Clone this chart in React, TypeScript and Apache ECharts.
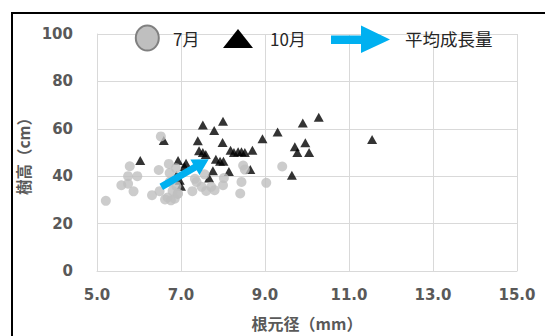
import React, { useEffect, useRef } from "react";
import * as echarts from "echarts";

// 7月 (gray circles): [根元径 mm, 樹高 cm]
const julyPoints: number[][] = [
  [5.21, 29.6], [6.52, 56.8], [5.78, 44.2], [5.74, 40.0], [5.96, 40.0],
  [5.58, 36.2], [5.74, 36.8], [5.87, 33.6], [6.31, 32.0], [6.47, 42.6],
  [6.49, 33.7], [6.71, 45.2], [6.73, 41.3], [6.88, 43.4], [6.73, 37.6],
  [6.89, 35.8], [6.68, 31.0], [6.76, 29.8], [6.85, 30.5], [6.92, 32.5],
  [6.80, 33.8], [6.62, 30.2], [6.93, 32.7], [7.27, 33.7], [7.37, 37.6],
  [7.33, 38.9], [7.49, 35.5], [7.56, 40.8], [7.60, 33.8], [7.72, 35.5],
  [7.80, 34.1], [8.00, 36.2], [8.02, 39.2], [8.44, 37.6], [8.41, 32.7],
  [8.48, 44.5], [8.52, 42.8], [9.03, 37.2], [9.41, 44.1],
];

// 10月 (black triangles)
const octoberPoints: number[][] = [
  [6.03, 46.6], [6.59, 55.1], [6.93, 46.6], [7.08, 44.1], [6.89, 40.3],
  [7.00, 35.8], [6.97, 38.3], [7.12, 45.5], [7.52, 61.6], [8.00, 63.2],
  [7.79, 59.3], [7.40, 55.0], [7.99, 54.2], [7.43, 50.7], [7.52, 50.0],
  [7.59, 49.2], [7.83, 47.2], [7.93, 46.3], [8.01, 46.3], [7.76, 42.3],
  [7.67, 39.2], [8.14, 42.0], [8.18, 51.0], [8.26, 50.0], [8.36, 50.3],
  [8.44, 50.3], [8.52, 50.0], [8.70, 51.0], [8.65, 42.8], [8.94, 55.8],
  [9.30, 58.6], [9.64, 40.4], [9.71, 52.4], [9.77, 50.0], [9.90, 62.4],
  [9.96, 54.1], [10.05, 50.0], [10.28, 64.9], [11.55, 55.5],
];

// 平均成長量 arrow: [x1, y1, x2, y2]
const growthArrow: number[][] = [[6.53, 35.5, 7.66, 47.2]];

const seriesNames = ["7月", "10月", "平均成長量"];
const xAxisTitle = "根元径（mm）";
const yAxisTitle = "樹高（cm）";

const LABEL_FONT = "DejaVu Sans, Noto Sans CJK JP, sans-serif";
const CJK_FONT = "Noto Sans CJK JP, DejaVu Sans, sans-serif";

export default function App() {
  const ref = useRef<HTMLDivElement>(null);

  useEffect(() => {
    document.body.style.margin = "0";
    const chart = echarts.init(ref.current!, undefined, { renderer: "svg" });
    const legendY = 38;
    chart.setOption({
      animation: false,
      backgroundColor: "#ffffff",
      grid: { left: 97, right: 28, top: 34, bottom: 60 },
      xAxis: {
        type: "value",
        min: 5,
        max: 15,
        interval: 2,
        name: xAxisTitle,
        nameLocation: "middle",
        nameGap: 44,
        nameTextStyle: { color: "#595959", fontSize: 16, fontWeight: "bold", fontFamily: CJK_FONT },
        axisLine: { show: true, lineStyle: { color: "#d9d9d9" } },
        axisTick: { show: false },
        splitLine: { show: true, lineStyle: { color: "#d9d9d9", width: 1 } },
        axisLabel: {
          color: "#595959",
          fontSize: 15,
          fontWeight: "bold",
          fontFamily: LABEL_FONT,
          margin: 16,
          formatter: (v: number) => v.toFixed(1),
        },
      },
      yAxis: {
        type: "value",
        min: 0,
        max: 100,
        interval: 20,
        name: yAxisTitle,
        nameLocation: "middle",
        nameGap: 41,
        nameTextStyle: { color: "#595959", fontSize: 15.5, fontWeight: "bold", fontFamily: CJK_FONT },
        axisLine: { show: true, lineStyle: { color: "#d9d9d9" } },
        axisTick: { show: false },
        splitLine: { show: true, lineStyle: { color: "#d9d9d9", width: 1 } },
        axisLabel: {
          color: "#595959",
          fontSize: 15,
          fontWeight: "bold",
          fontFamily: LABEL_FONT,
          margin: 24,
        },
      },
      series: [
        {
          name: seriesNames[1],
          type: "scatter",
          symbol: "triangle",
          symbolSize: [10, 9],
          itemStyle: { color: "#000000" },
          data: octoberPoints,
          z: 2,
        },
        {
          name: seriesNames[0],
          type: "scatter",
          symbol: "circle",
          symbolSize: 10,
          itemStyle: { color: "#bfbfbf" },
          data: julyPoints,
          z: 3,
        },
        {
          name: seriesNames[2],
          type: "custom",
          z: 4,
          data: growthArrow,
          renderItem: (params: any, api: any) => {
            const p1 = api.coord([api.value(0), api.value(1)]);
            const p2 = api.coord([api.value(2), api.value(3)]);
            const dx = p2[0] - p1[0];
            const dy = p2[1] - p1[1];
            const len = Math.hypot(dx, dy);
            const ux = dx / len, uy = dy / len;
            const nx = -uy, ny = ux;
            const hl = 16, hw = 9, sw = 3.5;
            const bx = p2[0] - ux * hl, by = p2[1] - uy * hl;
            const pts = [
              [p1[0] + nx * sw, p1[1] + ny * sw],
              [bx + nx * sw, by + ny * sw],
              [bx + nx * hw, by + ny * hw],
              [p2[0], p2[1]],
              [bx - nx * hw, by - ny * hw],
              [bx - nx * sw, by - ny * sw],
              [p1[0] - nx * sw, p1[1] - ny * sw],
            ];
            return { type: "polygon", shape: { points: pts }, style: { fill: "#00b0f0" } };
          },
        },
      ],
      graphic: [
        {
          type: "rect",
          shape: { x: 12, y: 13, width: 600, height: 400 },
          style: { fill: "none", stroke: "#000000", lineWidth: 2 },
          silent: true,
          z: 100,
        },
        {
          type: "ellipse",
          shape: { cx: 147.3, cy: legendY, rx: 11.5, ry: 12.5 },
          style: { fill: "#bfbfbf", stroke: "#808080", lineWidth: 2 },
          z: 100,
        },
        {
          type: "text",
          x: 173,
          y: legendY,
          style: { text: seriesNames[0], fill: "#262626", fontSize: 17, fontFamily: CJK_FONT, verticalAlign: "middle" },
          z: 100,
        },
        {
          type: "polygon",
          shape: { points: [[223, 48], [253, 48], [238, 29]] },
          style: { fill: "#000000" },
          z: 100,
        },
        {
          type: "text",
          x: 270,
          y: legendY,
          style: { text: seriesNames[1], fill: "#262626", fontSize: 17, fontFamily: CJK_FONT, verticalAlign: "middle" },
          z: 100,
        },
        {
          type: "polygon",
          shape: {
            points: [[331, 35.5], [361, 35.5], [361, 25.5], [390, 39.5], [361, 53], [361, 44], [331, 44]],
          },
          style: { fill: "#00b0f0" },
          z: 100,
        },
        {
          type: "text",
          x: 405,
          y: legendY,
          style: { text: seriesNames[2], fill: "#262626", fontSize: 17.5, fontFamily: CJK_FONT, verticalAlign: "middle" },
          z: 100,
        },
      ],
    });
    return () => chart.dispose();
  }, []);

  return (
    <div
      ref={ref}
      style={{ position: "fixed", left: 0, top: 0, width: 545, height: 336 }}
    />
  );
}
